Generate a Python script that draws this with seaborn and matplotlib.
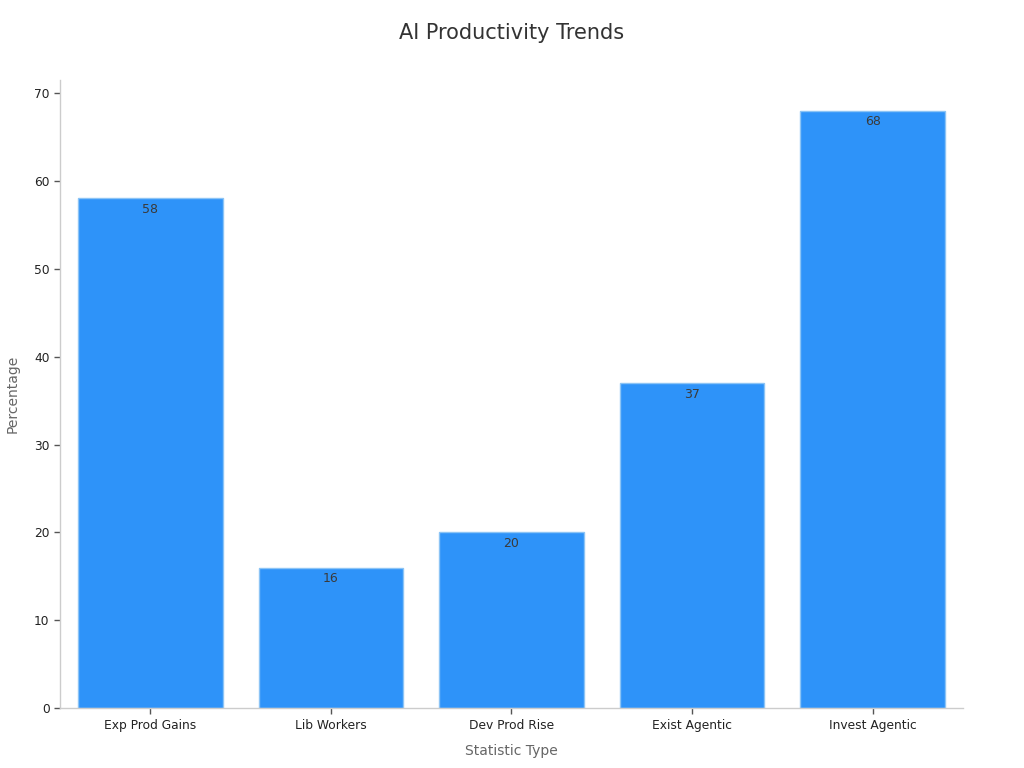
import seaborn as sns
import pandas as pd
import matplotlib.pyplot as plt

categories = ['Exp Prod Gains', 'Lib Workers', 'Dev Prod Rise', 'Exist Agentic', 'Invest Agentic']
values = [58, 16, 20, 37, 68]

df = pd.DataFrame({'Statistic Type': categories, 'Percentage': values})

sns.set_style('white')
plt.rcParams['font.family'] = ['DejaVu Sans']

fig = plt.figure(figsize=(10.24, 7.68), dpi=100)
ax = fig.add_axes([0.0586, 0.078, 0.8818, 0.818])

sns.barplot(data=df, x='Statistic Type', y='Percentage', color='#2E93F9',
            saturation=1, width=0.8, edgecolor='#8CC4F5', linewidth=1, ax=ax)

# value labels just inside the top of each bar
for bar, v in zip(ax.patches, values):
    ax.text(bar.get_x() + bar.get_width() / 2, v - 0.55, str(v),
            ha='center', va='top', fontsize=9, color='#3a3a3a')

ax.set_xlim(-0.5, 4.5)
ax.set_ylim(0, 71.5)
ax.set_yticks(range(0, 71, 10))
sns.despine(ax=ax)
for s in ['left', 'bottom']:
    ax.spines[s].set_color('#cccccc')
    ax.spines[s].set_linewidth(1)
ax.tick_params(axis='both', bottom=True, left=True, length=4, width=1, color='#555555',
               labelsize=8.8, labelcolor='#222222')

ax.set_xlabel('Statistic Type', fontsize=10, color='#666666', labelpad=9)
ax.set_ylabel('Percentage', fontsize=10, color='#666666', labelpad=10)
fig.suptitle('AI Productivity Trends', fontsize=15, color='#333333', y=0.97)

fig.savefig('out.png', dpi=100)
